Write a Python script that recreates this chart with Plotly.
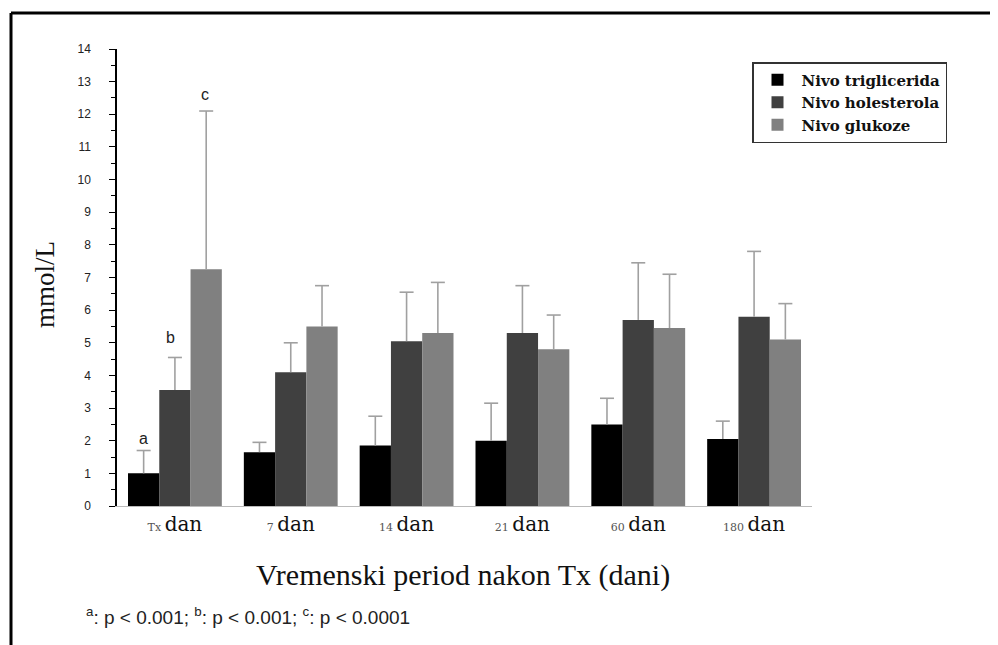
import plotly.graph_objects as go

categories = ["Tx dan", "7 dan", "14 dan", "21 dan", "60 dan", "180 dan"]
tick_small = ["Tx", "7", "14", "21", "60", "180"]
series_names = ["Nivo triglicerida", "Nivo holesterola", "Nivo glukoze"]

trig = [1.0, 1.65, 1.85, 2.0, 2.5, 2.05]
trig_top = [1.7, 1.95, 2.75, 3.15, 3.3, 2.6]
hol = [3.55, 4.1, 5.05, 5.3, 5.7, 5.8]
hol_top = [4.55, 5.0, 6.55, 6.75, 7.45, 7.8]
glu = [7.25, 5.5, 5.3, 4.8, 5.45, 5.1]
glu_top = [12.1, 6.75, 6.85, 5.85, 7.1, 6.2]

sig_labels = ["a", "b", "c"]

colors = ["#000000", "#404040", "#808080"]
values = [trig, hol, glu]
tops = [trig_top, hol_top, glu_top]

# page body has an 8px margin; layout measured in reference-page pixels
OFF = 8
W, H = 998 - OFF, 645 - OFF
PL, PR, PT, PB = 117, 812, 49, 506          # plot area in page pixels
pw, ph = PR - PL, PB - PT
L, T = PL - OFF, PT - OFF
R, B = W - L - pw, H - T - ph


def px(x):
    return (x - PL) / pw


def py(y):
    return (PB - y) / ph


bargap = 0.19
bw = (1 - bargap) / 3
unit_px = pw / len(categories)
cap = 7 / unit_px

fig = go.Figure()
n = len(categories)
for k, (name, vals, col) in enumerate(zip(series_names, values, colors)):
    fig.add_trace(go.Bar(
        x=list(range(n)), y=vals, name=name,
        marker=dict(color=col, line=dict(width=0)),
    ))

# upper error bars (whisker + cap) on an overlaid numeric x axis
for k, (vals, top) in enumerate(zip(values, tops)):
    xs, ys = [], []
    for i in range(n):
        xc = i + (k - 1) * bw
        xs += [xc, xc, None, xc - cap, xc + cap, None]
        ys += [vals[i], top[i], None, top[i], top[i], None]
    fig.add_trace(go.Scatter(
        x=xs, y=ys, xaxis="x2", yaxis="y", mode="lines",
        line=dict(color="#a0a0a0", width=1.6), showlegend=False,
        hoverinfo="skip"))

ticktext = [f"<span style='font-size:11px;fill:#555'>{s} </span>{c[len(s) + 1:]}"
            for s, c in zip(tick_small, categories)]

annotations = []
lab_shift = [(0, 2), (-4, 9), (-1, 6)]
for k, lab in enumerate(sig_labels):
    annotations.append(dict(
        x=0 + (k - 1) * bw, y=tops[k][0], xref="x2", yref="y",
        text=lab, showarrow=False, yanchor="bottom",
        xshift=lab_shift[k][0], yshift=lab_shift[k][1],
        font=dict(family="Liberation Sans", size=16, color="#222")))

annotations.append(dict(
    x=px(45), y=py(285), xref="paper", yref="paper",
    xanchor="center", yanchor="middle",
    text="mmol/L", textangle=-90, showarrow=False,
    font=dict(family="Liberation Serif", size=27, color="#111")))
annotations.append(dict(
    x=px(463), y=py(575), xref="paper", yref="paper",
    xanchor="center", yanchor="middle",
    text="Vremenski period nakon Tx (dani)", showarrow=False,
    font=dict(family="Liberation Serif", size=30, color="#111")))
annotations.append(dict(
    x=px(84), y=py(616), xref="paper", yref="paper",
    xanchor="left", yanchor="middle",
    text="<sup>a</sup>: p < 0.001; <sup>b</sup>: p < 0.001; <sup>c</sup>: p < 0.0001",
    showarrow=False,
    font=dict(family="Liberation Sans", size=19, color="#222")))

shapes = [
    dict(type="line", xref="paper", yref="paper", x0=px(11), x1=px(1000),
         y0=py(13), y1=py(13), line=dict(color="black", width=3)),
    dict(type="line", xref="paper", yref="paper", x0=px(11), x1=px(11),
         y0=py(13), y1=py(650), line=dict(color="black", width=3)),
]

fig.update_layout(
    width=W, height=H,
    margin=dict(l=L, r=R, t=T, b=B),
    paper_bgcolor="white", plot_bgcolor="white",
    barmode="group", bargap=bargap, bargroupgap=0,
    showlegend=True,
    legend=dict(x=px(752), y=py(62), xanchor="left", yanchor="top",
                bordercolor="#333", borderwidth=1.5, bgcolor="white",
                font=dict(family="DejaVu Serif", size=15, color="#111", weight="bold"),
                itemwidth=38, tracegroupgap=0),
    annotations=annotations, shapes=shapes,
    xaxis=dict(tickmode="array", tickvals=list(range(n)), ticktext=ticktext,
               range=[-0.5, n - 0.5], showline=True, linecolor="#bbbbbb", linewidth=1.2,
               ticks="", showgrid=False,
               tickfont=dict(family="DejaVu Serif", size=20, color="#111"),
               zeroline=False),
    xaxis2=dict(overlaying="x", range=[-0.5, n - 0.5], visible=False),
    yaxis=dict(range=[0, 14], dtick=1, tick0=0, showline=True, linecolor="black",
               linewidth=1.5, ticks="outside", ticklen=6, tickcolor="black",
               tickwidth=1.2, showgrid=False, zeroline=False,
               minor=dict(dtick=0.5, ticks="outside", ticklen=4, tickcolor="black"),
               tickfont=dict(family="Liberation Sans", size=12, color="#222"),
               ticklabelstandoff=16),
)

fig.write_html("out.html")
